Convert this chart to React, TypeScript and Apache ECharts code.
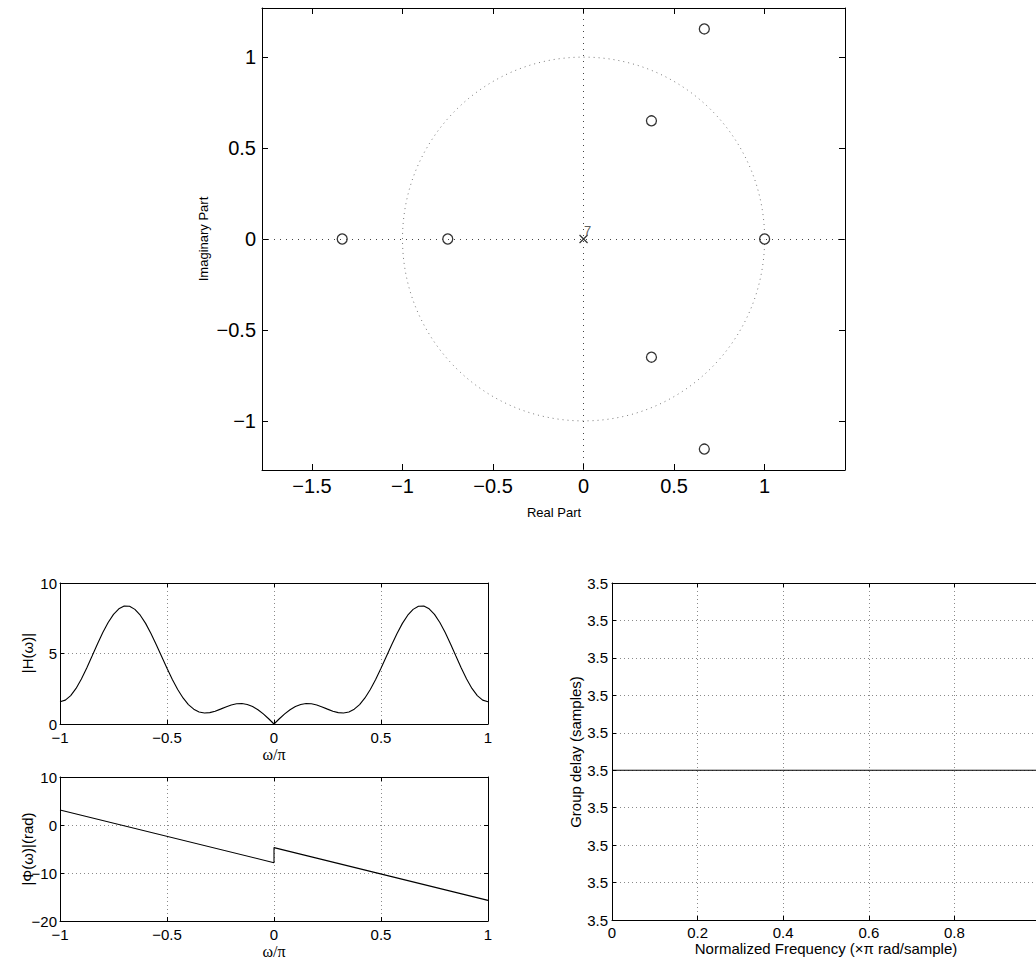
import React, { useEffect, useRef } from "react";
import * as echarts from "echarts";

// ---- Pole-zero data ----
const zerosReal = [1, -1.333, -0.75, 0.375, 0.375, 0.667, 0.667];
const zerosImag = [0, 0, 0, 0.65, -0.65, 1.155, -1.155];
const polesReal = [0];
const polesImag = [0];
const poleMultiplicity = "7";
const unitCircle = [[0, 0, 1]];
const pzXTicks = [-1.5, -1, -0.5, 0, 0.5, 1];
const pzYTicks = [-1, -0.5, 0, 0.5, 1];

// ---- Magnitude response |H(w)| read at steps of 0.025 (w/pi) ----
const magOmega = [
  -1, -0.975, -0.95, -0.925, -0.9, -0.875, -0.85, -0.825, -0.8, -0.775, -0.75, -0.725, -0.7, -0.675, -0.65, -0.625, -0.6, -0.575, -0.55, -0.525,
  -0.5, -0.475, -0.45, -0.425, -0.4, -0.375, -0.35, -0.325, -0.3, -0.275, -0.25, -0.225, -0.2, -0.175, -0.15, -0.125, -0.1, -0.075, -0.05, -0.025,
  0,
  0.025, 0.05, 0.075, 0.1, 0.125, 0.15, 0.175, 0.2, 0.225, 0.25, 0.275, 0.3, 0.325, 0.35, 0.375, 0.4, 0.425, 0.45, 0.475, 0.5,
  0.525, 0.55, 0.575, 0.6, 0.625, 0.65, 0.675, 0.7, 0.725, 0.75, 0.775, 0.8, 0.825, 0.85, 0.875, 0.9, 0.925, 0.95, 0.975, 1,
];
const magValues = [
  1.584, 1.694, 2.014, 2.525, 3.194, 3.976, 4.822, 5.677, 6.487, 7.2, 7.772, 8.169, 8.365, 8.352, 8.13, 7.716, 7.136, 6.426, 5.627, 4.787,
  3.949, 3.157, 2.447, 1.849, 1.38, 1.049, 0.854, 0.78, 0.808, 0.91, 1.055, 1.21, 1.344, 1.431, 1.45, 1.388, 1.241, 1.014, 0.718, 0.372,
  0,
  0.372, 0.718, 1.014, 1.241, 1.388, 1.45, 1.431, 1.344, 1.21, 1.055, 0.91, 0.808, 0.78, 0.854, 1.049, 1.38, 1.849, 2.447, 3.157, 3.949,
  4.787, 5.627, 6.426, 7.136, 7.716, 8.13, 8.352, 8.365, 8.169, 7.772, 7.2, 6.487, 5.677, 4.822, 3.976, 3.194, 2.525, 2.014, 1.694, 1.584,
];

// ---- Phase response ----
const phaseOmega = [-1, 0, 0, 1];
const phaseValues = [3.14, -7.85, -4.71, -15.71];

// ---- Group delay ----
const gdFreq = [0, 1];
const gdValues = [3.5, 3.5];
const gdYTickLabels = ["3.5", "3.5", "3.5", "3.5", "3.5", "3.5", "3.5", "3.5", "3.5", "3.5"];

const SANS = "'Liberation Sans', Arial, Helvetica, sans-serif";
const SERIF = "'Liberation Serif', 'Times New Roman', serif";

const fmt = (v: number) => {
  const s = String(Math.round(v * 1000) / 1000);
  return s.replace("-", "\u2212");
};

function axis(kind: "x" | "y", gridIndex: number, pos: string, o: any) {
  const main = pos === "bottom" || pos === "left";
  const tick: any = { show: true, inside: true, length: o.tickLen, lineStyle: { color: "#000", width: 1 } };
  const label: any = {
    show: main,
    fontSize: o.fontSize,
    lineHeight: o.lineHeight || o.fontSize,
    fontFamily: SANS,
    color: "#000",
    margin: o.margin,
    formatter: o.formatter || fmt,
    showMinLabel: true,
    showMaxLabel: o.hideMax ? false : true,
    hideOverlap: false,
  };
  if (o.customTicks) {
    tick.customValues = o.customTicks;
    label.customValues = o.customTicks;
  }
  const a: any = {
    type: "value",
    gridIndex,
    position: pos,
    min: o.min,
    max: o.max,
    axisLine: { show: true, onZero: false, lineStyle: { color: "#000", width: 1 } },
    axisTick: tick,
    axisLabel: label,
    splitLine: {
      show: !!o.grid && main,
      lineStyle: { color: "#8a8a8a", width: 1, type: [1, 3] },
    },
  };
  if (o.interval !== undefined) a.interval = o.interval;
  return a;
}

export default function App() {
  const ref = useRef<HTMLDivElement>(null);

  useEffect(() => {
    document.body.style.margin = "0";
    const chart = echarts.init(ref.current!, undefined, { renderer: "svg" });

    const pzX = { min: -1.776, max: 1.444, customTicks: pzXTicks, tickLen: 6, fontSize: 20, margin: 6 };
    const pzY = { min: -1.27, max: 1.27, customTicks: pzYTicks, tickLen: 6, fontSize: 20, margin: 6 };
    const freqX = { min: -1, max: 1, interval: 0.5, tickLen: 4, fontSize: 15, lineHeight: 12, margin: 7, grid: true };
    const magY = { min: 0, max: 10, interval: 5, tickLen: 4, fontSize: 15, lineHeight: 12, margin: 3, grid: true };
    const phY = { min: -20, max: 10, interval: 10, tickLen: 4, fontSize: 15, lineHeight: 12, margin: 3, grid: true };
    const gdX = { min: 0, max: 1, interval: 0.2, tickLen: 4, fontSize: 15, lineHeight: 12, margin: 6, grid: true, hideMax: true };
    const gdY = {
      min: -0.5,
      max: 8.5,
      interval: 1,
      tickLen: 4,
      fontSize: 15,
      lineHeight: 12,
      margin: 4,
      grid: true,
      formatter: (_v: number, i: number) => gdYTickLabels[i] ?? "3.5",
    };

    const gridBase = { outerBoundsMode: "none", containLabel: false };
    const text = (t: string, x: number, y: number, size: number, family: string, rotate = false) => ({
      type: "text",
      x,
      y,
      rotation: rotate ? Math.PI / 2 : 0,
      silent: true,
      style: {
        text: t,
        fontSize: size,
        lineHeight: size,
        fontFamily: family,
        fill: "#000",
        align: "center",
        verticalAlign: "middle",
        textAlign: "center",
        textVerticalAlign: "middle",
      },
    });

    const option: any = {
      animation: false,
      backgroundColor: "#fff",
      textStyle: { fontFamily: SANS },
      grid: [
        { ...gridBase, left: 262, top: 8, width: 583, height: 462 },
        { ...gridBase, left: 60, top: 583, width: 428, height: 141 },
        { ...gridBase, left: 60, top: 777, width: 428, height: 144 },
        { ...gridBase, left: 612, top: 583, width: 428, height: 337 },
      ],
      xAxis: [
        axis("x", 0, "bottom", pzX),
        axis("x", 0, "top", pzX),
        axis("x", 1, "bottom", freqX),
        axis("x", 1, "top", freqX),
        axis("x", 2, "bottom", freqX),
        axis("x", 2, "top", freqX),
        axis("x", 3, "bottom", gdX),
        axis("x", 3, "top", gdX),
      ],
      yAxis: [
        axis("y", 0, "left", pzY),
        axis("y", 0, "right", pzY),
        axis("y", 1, "left", magY),
        axis("y", 1, "right", magY),
        axis("y", 2, "left", phY),
        axis("y", 2, "right", phY),
        axis("y", 3, "left", gdY),
        axis("y", 3, "right", gdY),
      ],
      series: [
        {
          type: "custom",
          xAxisIndex: 0,
          yAxisIndex: 0,
          silent: true,
          z: 1,
          data: unitCircle,
          renderItem: (_p: any, api: any) => {
            const cx = api.value(0), cy = api.value(1), r = api.value(2);
            const c = api.coord([cx, cy]);
            const e = api.coord([cx + r, cy + r]);
            return {
              type: "ellipse",
              shape: { cx: c[0], cy: c[1], rx: e[0] - c[0], ry: c[1] - e[1] },
              style: { fill: "none", stroke: "#7a7a7a", lineWidth: 1, lineDash: [1, 4] },
            };
          },
        },
        {
          type: "scatter",
          xAxisIndex: 0,
          yAxisIndex: 0,
          z: 3,
          symbol: "circle",
          symbolSize: 10,
          itemStyle: { color: "#fff", borderColor: "#000", borderWidth: 1.3 },
          data: zerosReal.map((x, i) => [x, zerosImag[i]]),
          markLine: {
            silent: true,
            symbol: ["none", "none"],
            label: { show: false },
            lineStyle: { color: "#444", width: 1, type: [1, 5] },
            data: [{ xAxis: 0 }, { yAxis: 0 }],
          },
        },
        {
          type: "scatter",
          xAxisIndex: 0,
          yAxisIndex: 0,
          z: 4,
          symbol: "path://M0 0L10 10M10 0L0 10",
          symbolSize: 8,
          itemStyle: { color: "none", borderColor: "#000", borderWidth: 1.2 },
          label: {
            show: true,
            formatter: poleMultiplicity,
            position: "inside",
            offset: [4, -9],
            fontSize: 13,
            fontFamily: SANS,
            color: "#333",
          },
          data: polesReal.map((x, i) => [x, polesImag[i]]),
        },
        {
          type: "line",
          xAxisIndex: 2,
          yAxisIndex: 2,
          showSymbol: false,
          lineStyle: { color: "#000", width: 1.1 },
          data: magOmega.map((x, i) => [x, magValues[i]]),
        },
        {
          type: "line",
          xAxisIndex: 4,
          yAxisIndex: 4,
          showSymbol: false,
          lineStyle: { color: "#000", width: 1.1 },
          data: phaseOmega.map((x, i) => [x, phaseValues[i]]),
        },
        {
          type: "line",
          xAxisIndex: 6,
          yAxisIndex: 6,
          showSymbol: false,
          lineStyle: { color: "#000", width: 1.1 },
          data: gdFreq.map((x, i) => [x, gdValues[i]]),
        },
      ],
      graphic: [
        text("Imaginary Part", 203, 239, 13, SANS, true),
        text("Real Part", 554, 512, 13, SANS),
        text("|H(\u03c9)|", 27, 653, 15, SANS, true),
        text("\u03c9/\u03c0", 274, 754, 16, SERIF),
        text("|\u03a6(\u03c9)|(rad)", 27, 849, 15, SANS, true),
        text("\u03c9/\u03c0", 274, 951, 16, SERIF),
        text("Group delay (samples)", 575, 752, 15, SANS, true),
        text("Normalized Frequency (\u00d7\u03c0 rad/sample)", 826, 948, 15, SANS),
      ],
    };

    chart.setOption(option);
    return () => chart.dispose();
  }, []);

  return (
    <div style={{ position: "absolute", left: 0, top: 0, width: 1036, height: 958, overflow: "hidden", background: "#fff" }}>
      <div ref={ref} style={{ position: "absolute", left: 0, top: 0, width: 1050, height: 958 }} />
    </div>
  );
}
